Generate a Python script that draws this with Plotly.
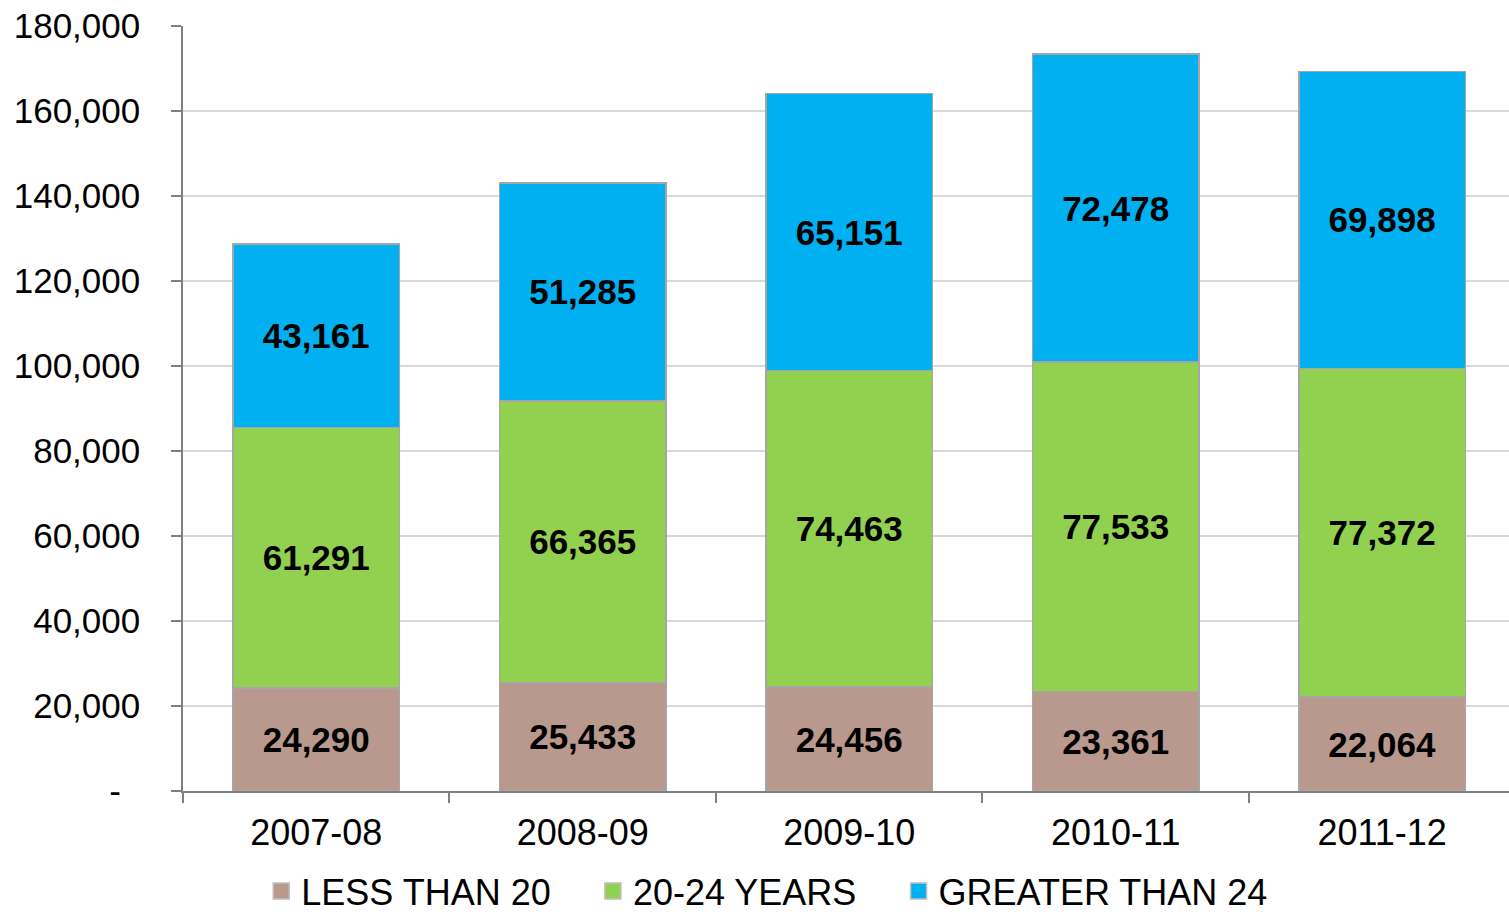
import plotly.graph_objects as go

categories = ["2007-08", "2008-09", "2009-10", "2010-11", "2011-12"]
less_than_20 = [24290, 25433, 24456, 23361, 22064]
years_20_24 = [61291, 66365, 74463, 77533, 77372]
greater_than_24 = [43161, 51285, 65151, 72478, 69898]
series_names = ["LESS THAN 20", "20-24 YEARS", "GREATER THAN 24"]
series_colors = ["#B9998E", "#92D050", "#00B0F0"]
y_tick_vals = [0, 20000, 40000, 60000, 80000, 100000, 120000, 140000, 160000, 180000]
y_tick_text = ["-\u00a0\u00a0", "20,000", "40,000", "60,000", "80,000", "100,000",
               "120,000", "140,000", "160,000", "180,000"]

FONT = "Arial, Liberation Sans, sans-serif"
PAD = "\u00a0\u00a0\u00a0\u2009"
fig = go.Figure()

for name, vals, color in zip(series_names, [less_than_20, years_20_24, greater_than_24], series_colors):
    fig.add_trace(go.Bar(
        x=categories, y=vals, name=name,
        marker=dict(color=color, line=dict(color="#A6A6A6", width=1.5)),
        text=[f"{v:,}" for v in vals],
        textposition="inside", insidetextanchor="middle",
        textfont=dict(family=FONT, size=35, color="black", weight="bold"),
        textangle=0,
        width=0.625, showlegend=False,
    ))
    fig.add_trace(go.Scatter(
        x=[categories[0]], y=[None], mode="markers", name=name + PAD,
        marker=dict(symbol="square", size=20, color=color, line=dict(color="#BFBFBF", width=1.5)),
        showlegend=True,
    ))

fig.update_layout(
    width=1509, height=914,
    margin=dict(l=183, r=0, t=26, b=123, autoexpand=False),
    barmode="stack",
    plot_bgcolor="white", paper_bgcolor="white",
    font=dict(family=FONT, size=35, color="black"),
    uniformtext=dict(minsize=34, mode="show"),
    legend=dict(orientation="h", x=0.059, xanchor="left", y=-0.131, yanchor="middle",
                traceorder="normal",
                font=dict(family=FONT, size=36, color="black"),
                itemsizing="trace", tracegroupgap=0),
    showlegend=True,
)
fig.update_xaxes(
    type="category",
    range=[-0.5, 4.476],
    automargin=False,
    showline=True, linecolor="#808080", linewidth=1.5,
    ticks="outside", ticklen=10, tickcolor="#808080", tickwidth=1.5,
    tickson="boundaries",
    ticklabelstandoff=9,
    tickfont=dict(family=FONT, size=36, color="black"),
    showgrid=False,
)
fig.update_yaxes(
    range=[0, 180000],
    automargin=False,
    tickvals=y_tick_vals, ticktext=y_tick_text,
    showline=True, linecolor="#808080", linewidth=1.5,
    ticks="outside", ticklen=10, tickcolor="#808080", tickwidth=1.5,
    ticklabelstandoff=24,
    tickfont=dict(family=FONT, size=35, color="black"),
    showgrid=True, gridcolor="#D9D9D9", gridwidth=1.5,
    zeroline=False,
)

fig.write_html("out.html", config={"displayModeBar": False},
               post_script="document.body.style.margin='0';document.body.style.overflow='hidden';")
